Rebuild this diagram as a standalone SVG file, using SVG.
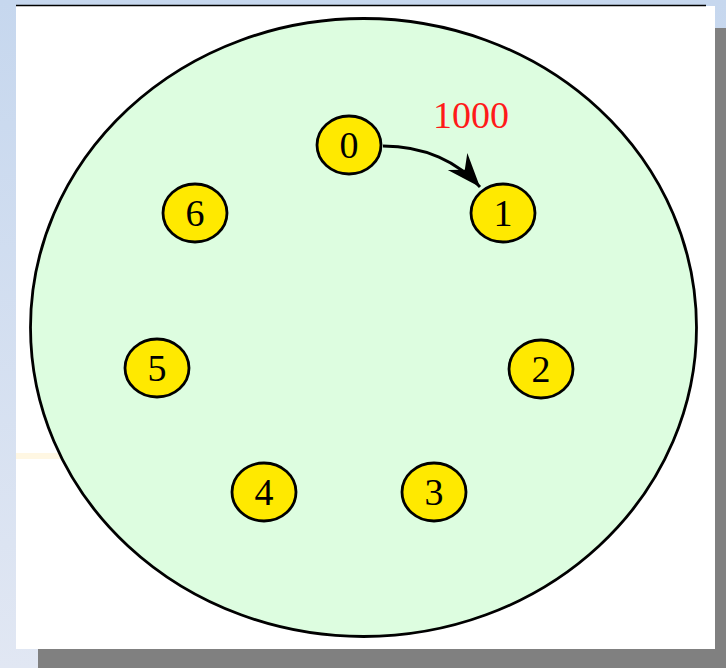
<svg xmlns="http://www.w3.org/2000/svg" width="726" height="668" viewBox="0 0 726 668">
<defs>
<linearGradient id="bg" x1="0" y1="0" x2="0" y2="1">
<stop offset="0" stop-color="#c6d7ee"/>
<stop offset="1" stop-color="#e1e7f3"/>
</linearGradient>
<marker id="stealth" markerUnits="userSpaceOnUse" markerWidth="40" markerHeight="30" viewBox="-36 -15 38 30" refX="0" refY="0" orient="auto">
<path d="M0,0 L-34,-13 L-23,0 L-34,13 Z" fill="#000"/>
</marker>
<style>
.node ellipse{fill:#ffe900;stroke:#000;stroke-width:2.8}
.node text{font-family:"Liberation Serif","DejaVu Serif",serif;font-size:38px;text-anchor:middle;fill:#000}
.lbl{font-family:"Liberation Serif","DejaVu Serif",serif;font-size:38px;text-anchor:middle;fill:#ff1a1a}
</style>
</defs>
<rect x="0" y="0" width="726" height="668" fill="url(#bg)"/>
<rect x="715" y="28" width="11" height="640" fill="#808080"/>
<rect x="38" y="649" width="688" height="19" fill="#808080"/>
<rect x="16" y="6" width="699" height="643" fill="#fff"/>
<line x1="16" y1="5.5" x2="706" y2="5.5" stroke="#000" stroke-width="1.5"/>
<rect x="16" y="453" width="50" height="6" fill="#fff7e3"/>
<ellipse id="region" cx="363.5" cy="327.5" rx="333" ry="309" fill="#ddfde0" stroke="#000" stroke-width="2.8"/>
<g id="connectors">
<path d="M383,146 C425,146 458,162 480,187" fill="none" stroke="#000" stroke-width="2.8" marker-end="url(#stealth)"/>
<text class="lbl" x="471" y="128">1000</text>
</g>
<g id="n0" class="node"><ellipse cx="349" cy="145" rx="32" ry="29"/><text x="349" y="158">0</text></g>
<g id="n1" class="node"><ellipse cx="503" cy="213" rx="32" ry="29"/><text x="503" y="226">1</text></g>
<g id="n2" class="node"><ellipse cx="541" cy="369" rx="32" ry="29"/><text x="541" y="382">2</text></g>
<g id="n3" class="node"><ellipse cx="434" cy="492" rx="32" ry="29"/><text x="434" y="505">3</text></g>
<g id="n4" class="node"><ellipse cx="264" cy="492" rx="32" ry="29"/><text x="264" y="505">4</text></g>
<g id="n5" class="node"><ellipse cx="157" cy="368" rx="32" ry="29"/><text x="157" y="381">5</text></g>
<g id="n6" class="node"><ellipse cx="195" cy="213" rx="32" ry="29"/><text x="195" y="226">6</text></g>
</svg>
